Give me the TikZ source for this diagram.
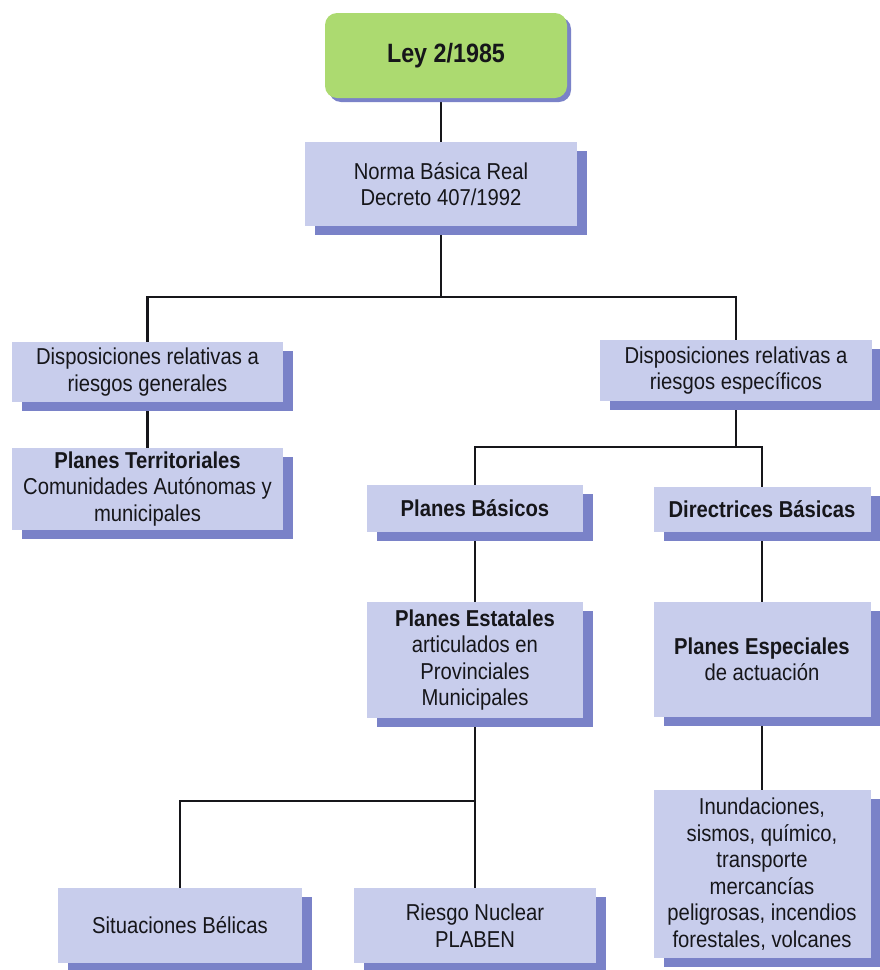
\documentclass[tikz,border=0pt]{standalone}
\usepackage{fontspec}
\setmainfont{Liberation Sans}[FakeStretch=0.88]
\usetikzlibrary{shadows,backgrounds}

\definecolor{boxfill}{RGB}{200,205,236}
\definecolor{shadowblue}{RGB}{122,130,200}
\definecolor{leygreen}{RGB}{172,218,112}
\definecolor{ink}{RGB}{22,22,26}

\tikzset{
  box/.style={fill=boxfill, text=ink, align=center, inner sep=0pt,
    font=\fontsize{23}{26.5}\selectfont,
    drop shadow={shadow xshift=10pt, shadow yshift=-9pt, fill=shadowblue, opacity=1}},
  topbox/.style={fill=leygreen, text=ink, align=center, inner sep=0pt,
    rounded corners=12pt, font=\fontsize{26.5}{30}\selectfont\bfseries,
    drop shadow={shadow xshift=4pt, shadow yshift=-4pt, fill=shadowblue, opacity=1}},
  link/.style={draw=ink, line width=2.5pt},
}

\begin{document}
\begin{tikzpicture}[x=1pt, y=-1pt]
\useasboundingbox (0,0) rectangle (879,970);

% top of the hierarchy
\node[topbox, minimum width=242pt, minimum height=85pt] (ley) at (446,55.5) {Ley 2/1985};
\node[box, minimum width=272pt, minimum height=84pt] (norma) at (441,184)
  {Norma Básica Real\\Decreto 407/1992};

% general and specific provisions
\node[box, minimum width=271pt, minimum height=60pt] (dgen) at (147.5,372)
  {Disposiciones relativas a\\riesgos generales};
\node[box, minimum width=271pt, minimum height=82pt] (pterr) at (147.5,489)
  {\textbf{Planes Territoriales}\\Comunidades Autónomas y\\municipales};
\node[box, minimum width=272pt, minimum height=61pt] (desp) at (736,370.5)
  {Disposiciones relativas a\\riesgos específicos};

% basic plans and guidelines
\node[box, minimum width=216pt, minimum height=47pt] (pbas) at (475,508.5)
  {\textbf{Planes Básicos}};
\node[box, minimum width=217pt, minimum height=45pt] (dbas) at (762,509.5)
  {\textbf{Directrices Básicas}};
\node[box, minimum width=216pt, minimum height=116pt] (pest) at (475,660)
  {\textbf{Planes Estatales}\\articulados en\\Provinciales\\Municipales};
\node[box, minimum width=217pt, minimum height=115pt] (pesp) at (762,659.5)
  {\textbf{Planes Especiales}\\de actuación};

% lowest level
\node[box, minimum width=217pt, minimum height=168pt] (inund) at (762,874)
  {Inundaciones,\\sismos, químico,\\transporte\\mercancías\\peligrosas, incendios\\forestales, volcanes};
\node[box, minimum width=244pt, minimum height=75pt] (sbel) at (180,925.5)
  {Situaciones Bélicas};
\node[box, minimum width=242pt, minimum height=75pt] (rnuc) at (475,925.5)
  {Riesgo Nuclear\\PLABEN};

% branch points
\coordinate (j1) at (441,297);
\coordinate (j2) at (736,447);
\coordinate (j3) at (475,801);

\begin{scope}[on background layer]
  \draw[link] (norma.north) -- (norma.north |- ley.south);
  \draw[link] (norma.south) -- (j1);
  \draw[link] (dgen.north) |- (j1) -| (desp.north);
  \draw[link] (dgen.south) -- (pterr.north);
  \draw[link] (desp.south) -- (j2);
  \draw[link] (pbas.north) |- (j2) -| (dbas.north);
  \draw[link] (pbas.south) -- (pest.north);
  \draw[link] (dbas.south) -- (pesp.north);
  \draw[link] (pesp.south) -- (inund.north);
  \draw[link] (pest.south) -- (rnuc.north);
  \draw[link] (sbel.north) |- (j3);
\end{scope}
\end{tikzpicture}
\end{document}
